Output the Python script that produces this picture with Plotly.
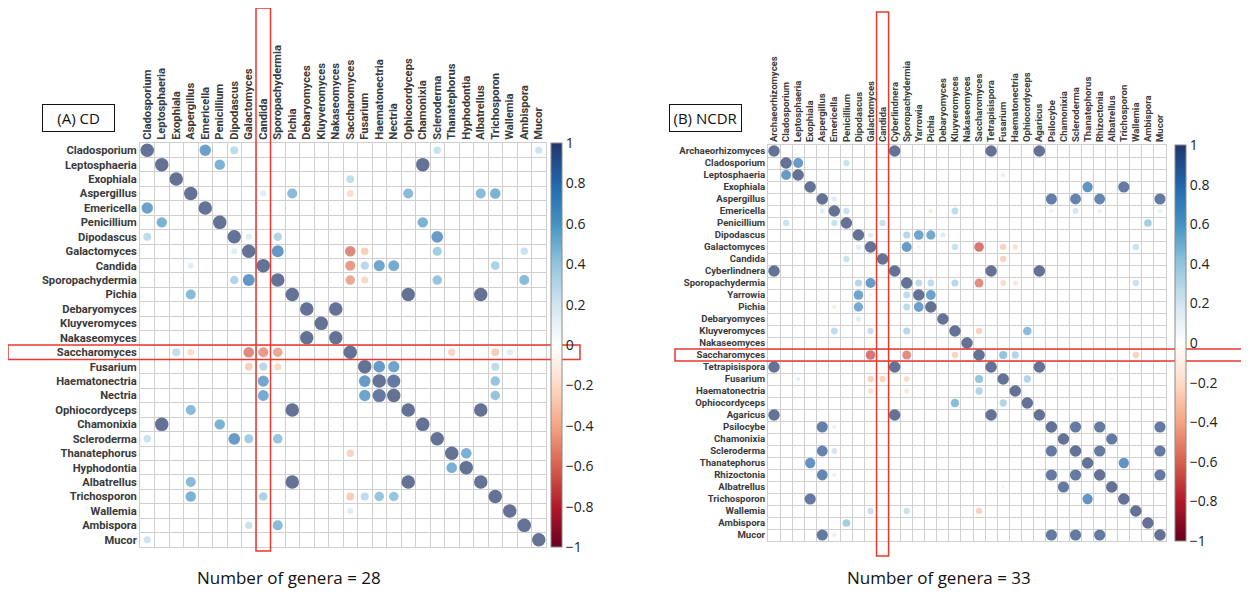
import numpy as np
import plotly.graph_objects as go

# ==========================================
# Data
# ==========================================

cd_genera = [
    "Cladosporium", "Leptosphaeria", "Exophiala", "Aspergillus", "Emericella",
    "Penicillium", "Dipodascus", "Galactomyces", "Candida", "Sporopachydermia",
    "Pichia", "Debaryomyces", "Kluyveromyces", "Nakaseomyces", "Saccharomyces",
    "Fusarium", "Haematonectria", "Nectria", "Ophiocordyceps", "Chamonixia",
    "Scleroderma", "Thanatephorus", "Hyphodontia", "Albatrellus", "Trichosporon",
    "Wallemia", "Ambispora", "Mucor",
]

# upper-triangle correlations (the matrix is symmetric, diagonal = 1)
cd_pairs = [
    ("Cladosporium", "Emericella", 0.72),
    ("Cladosporium", "Dipodascus", 0.35),
    ("Cladosporium", "Scleroderma", 0.3),
    ("Cladosporium", "Mucor", 0.28),
    ("Leptosphaeria", "Penicillium", 0.6),
    ("Leptosphaeria", "Chamonixia", 1.0),
    ("Exophiala", "Saccharomyces", 0.33),
    ("Aspergillus", "Candida", 0.2),
    ("Aspergillus", "Pichia", 0.55),
    ("Aspergillus", "Saccharomyces", -0.25),
    ("Aspergillus", "Ophiocordyceps", 0.55),
    ("Aspergillus", "Albatrellus", 0.55),
    ("Aspergillus", "Trichosporon", 0.6),
    ("Penicillium", "Chamonixia", 0.6),
    ("Dipodascus", "Galactomyces", 0.2),
    ("Dipodascus", "Sporopachydermia", 0.4),
    ("Dipodascus", "Scleroderma", 0.75),
    ("Galactomyces", "Sporopachydermia", 0.78),
    ("Galactomyces", "Saccharomyces", -0.62),
    ("Galactomyces", "Fusarium", -0.32),
    ("Galactomyces", "Scleroderma", 0.45),
    ("Galactomyces", "Ambispora", 0.3),
    ("Candida", "Saccharomyces", -0.55),
    ("Candida", "Fusarium", 0.38),
    ("Candida", "Haematonectria", 0.68),
    ("Candida", "Nectria", 0.65),
    ("Candida", "Trichosporon", 0.42),
    ("Sporopachydermia", "Saccharomyces", -0.5),
    ("Sporopachydermia", "Fusarium", -0.27),
    ("Sporopachydermia", "Scleroderma", 0.5),
    ("Sporopachydermia", "Ambispora", 0.55),
    ("Pichia", "Ophiocordyceps", 1.0),
    ("Pichia", "Albatrellus", 1.0),
    ("Debaryomyces", "Nakaseomyces", 1.0),
    ("Saccharomyces", "Thanatephorus", -0.3),
    ("Saccharomyces", "Trichosporon", -0.33),
    ("Saccharomyces", "Wallemia", 0.2),
    ("Fusarium", "Haematonectria", 0.75),
    ("Fusarium", "Nectria", 0.7),
    ("Fusarium", "Trichosporon", 0.35),
    ("Haematonectria", "Nectria", 0.95),
    ("Haematonectria", "Trichosporon", 0.5),
    ("Nectria", "Trichosporon", 0.5),
    ("Ophiocordyceps", "Albatrellus", 1.0),
    ("Thanatephorus", "Hyphodontia", 0.62),
]

ncdr_genera = [
    "Archaeorhizomyces", "Cladosporium", "Leptosphaeria", "Exophiala", "Aspergillus",
    "Emericella", "Penicillium", "Dipodascus", "Galactomyces", "Candida",
    "Cyberlindnera", "Sporopachydermia", "Yarrowia", "Pichia", "Debaryomyces",
    "Kluyveromyces", "Nakaseomyces", "Saccharomyces", "Tetrapisispora", "Fusarium",
    "Haematonectria", "Ophiocordyceps", "Agaricus", "Psilocybe", "Chamonixia",
    "Scleroderma", "Thanatephorus", "Rhizoctonia", "Albatrellus", "Trichosporon",
    "Wallemia", "Ambispora", "Mucor",
]

ncdr_pairs = [
    ("Archaeorhizomyces", "Cyberlindnera", 1.0),
    ("Archaeorhizomyces", "Tetrapisispora", 1.0),
    ("Archaeorhizomyces", "Agaricus", 1.0),
    ("Cladosporium", "Leptosphaeria", 0.75),
    ("Cladosporium", "Penicillium", 0.3),
    ("Leptosphaeria", "Fusarium", 0.15),
    ("Exophiala", "Thanatephorus", 0.8),
    ("Exophiala", "Trichosporon", 0.95),
    ("Aspergillus", "Emericella", 0.2),
    ("Aspergillus", "Psilocybe", 0.92),
    ("Aspergillus", "Scleroderma", 0.9),
    ("Aspergillus", "Rhizoctonia", 0.88),
    ("Aspergillus", "Mucor", 0.95),
    ("Emericella", "Penicillium", 0.3),
    ("Emericella", "Pichia", -0.15),
    ("Emericella", "Kluyveromyces", 0.35),
    ("Emericella", "Psilocybe", 0.13),
    ("Emericella", "Scleroderma", 0.25),
    ("Emericella", "Rhizoctonia", 0.13),
    ("Emericella", "Mucor", 0.15),
    ("Penicillium", "Candida", 0.3),
    ("Penicillium", "Ambispora", 0.45),
    ("Dipodascus", "Galactomyces", 0.2),
    ("Dipodascus", "Sporopachydermia", 0.38),
    ("Dipodascus", "Yarrowia", 0.7),
    ("Dipodascus", "Pichia", 0.65),
    ("Dipodascus", "Debaryomyces", 0.2),
    ("Galactomyces", "Sporopachydermia", 0.75),
    ("Galactomyces", "Yarrowia", 0.1),
    ("Galactomyces", "Kluyveromyces", 0.3),
    ("Galactomyces", "Saccharomyces", -0.7),
    ("Galactomyces", "Fusarium", -0.3),
    ("Galactomyces", "Haematonectria", -0.22),
    ("Galactomyces", "Wallemia", 0.3),
    ("Candida", "Fusarium", -0.3),
    ("Cyberlindnera", "Tetrapisispora", 1.0),
    ("Cyberlindnera", "Agaricus", 1.0),
    ("Sporopachydermia", "Yarrowia", 0.35),
    ("Sporopachydermia", "Pichia", 0.35),
    ("Sporopachydermia", "Kluyveromyces", 0.38),
    ("Sporopachydermia", "Saccharomyces", -0.6),
    ("Sporopachydermia", "Fusarium", -0.25),
    ("Sporopachydermia", "Haematonectria", -0.2),
    ("Sporopachydermia", "Wallemia", 0.3),
    ("Yarrowia", "Pichia", 0.72),
    ("Kluyveromyces", "Saccharomyces", -0.3),
    ("Kluyveromyces", "Ophiocordyceps", 0.55),
    ("Saccharomyces", "Fusarium", 0.5),
    ("Saccharomyces", "Haematonectria", 0.4),
    ("Saccharomyces", "Wallemia", -0.3),
    ("Tetrapisispora", "Agaricus", 1.0),
    ("Fusarium", "Ophiocordyceps", 0.4),
    ("Fusarium", "Albatrellus", 0.1),
    ("Psilocybe", "Scleroderma", 0.95),
    ("Psilocybe", "Rhizoctonia", 0.95),
    ("Psilocybe", "Mucor", 0.95),
    ("Chamonixia", "Albatrellus", 0.95),
    ("Scleroderma", "Rhizoctonia", 0.95),
    ("Scleroderma", "Mucor", 0.95),
    ("Thanatephorus", "Trichosporon", 0.8),
    ("Rhizoctonia", "Mucor", 0.95),
]

cbar_ticks = [1, 0.8, 0.6, 0.4, 0.2, 0, -0.2, -0.4, -0.6, -0.8, -1]

# ==========================================
# Data Preparation
# ==========================================

def build_matrix(genera, pairs):
    n = len(genera)
    idx = {g: i for i, g in enumerate(genera)}
    m = np.eye(n)
    for a, b, r in pairs:
        m[idx[a], idx[b]] = r
        m[idx[b], idx[a]] = r
    rows, cols = np.nonzero(m)
    return rows, cols, m[rows, cols]


rdbu = [
    [0.0, "#67001F"], [0.1, "#B2182B"], [0.2, "#D6604D"], [0.3, "#F4A582"],
    [0.4, "#FDDBC7"], [0.5, "#FFFFFF"], [0.6, "#D1E5F0"], [0.7, "#92C5DE"],
    [0.8, "#4393C3"], [0.9, "#2166AC"], [1.0, "#22366A"],
]

W, H = 1249, 596
OFF = 8  # the page body adds 8px around the figure


def px_x(v):
    return (v - OFF) / W


def px_y(v):
    return 1 - (v - OFF) / H


label_color = "#3a3a3a"

# panel grid boxes in page pixels: left, right, top, bottom
panels = [
    dict(genera=cd_genera, pairs=cd_pairs, box=(140, 546, 143, 547), dot=13.5, font=11.2,
         cbar_x=551, tag="(A) CD", tag_x=78, footer="Number of genera = 28", foot_x=289,
         vline=(8, 551), hline=(8, 580)),
    dict(genera=ncdr_genera, pairs=ncdr_pairs, box=(768, 1166, 145, 541), dot=11.5, font=9.6,
         cbar_x=1175, tag="(B) NCDR", tag_x=705, footer="Number of genera = 33", foot_x=939,
         vline=(12, 556), hline=(675, 1245)),
]

# ==========================================
# Plot
# ==========================================

fig = go.Figure()
layout = {}
shapes = []
annotations = []

for k, p in enumerate(panels, start=1):
    suffix = "" if k == 1 else str(k)
    n = len(p["genera"])
    rows, cols, vals = build_matrix(p["genera"], p["pairs"])
    l, r, t, b = p["box"]
    xdom = [px_x(l), px_x(r)]
    ydom = [px_y(b), px_y(t)]

    fig.add_trace(go.Scatter(
        x=cols, y=rows, mode="markers",
        xaxis="x" + suffix, yaxis="y" + suffix,
        marker=dict(
            size=p["dot"] * np.sqrt(np.abs(vals)),
            color=vals, coloraxis="coloraxis" + suffix,
            line=dict(width=0),
        ),
        hovertemplate="%{customdata}<extra></extra>",
        customdata=[f"{p['genera'][i]} – {p['genera'][j]}: {v:.2f}" for i, j, v in zip(rows, cols, vals)],
        showlegend=False,
    ))

    tick_font = dict(size=p["font"], color=label_color, family="Roboto", weight="bold")
    grid = dict(tickmode="array", tickvals=[v - 0.5 for v in range(n + 1)],
                showgrid=True, gridcolor="#cfcfcf", gridwidth=1, ticks="")
    layout["xaxis" + suffix] = dict(
        domain=xdom, range=[-0.5, n - 0.5], anchor="y" + suffix, side="top",
        tickmode="array", tickvals=list(range(n)), ticktext=p["genera"],
        tickangle=-90, tickfont=tick_font, automargin=False,
        showgrid=False, zeroline=False, ticks="", minor=grid,
        showline=True, mirror=True, linecolor="#cfcfcf", fixedrange=True,
    )
    layout["yaxis" + suffix] = dict(
        domain=ydom, range=[n - 0.5, -0.5], anchor="x" + suffix,
        tickmode="array", tickvals=list(range(n)), ticktext=p["genera"],
        tickfont=tick_font, automargin=False,
        showgrid=False, zeroline=False, ticks="", minor=grid,
        showline=True, mirror=True, linecolor="#cfcfcf", fixedrange=True,
    )
    layout["coloraxis" + suffix] = dict(
        cmin=-1, cmax=1, colorscale=rdbu,
        colorbar=dict(
            x=px_x(p["cbar_x"]), xanchor="left", y=(ydom[0] + ydom[1]) / 2, yanchor="middle",
            len=ydom[1] - ydom[0], lenmode="fraction", thickness=11,
            outlinewidth=1, outlinecolor="#8a8a8a", xpad=0, ypad=0,
            tickmode="array", tickvals=cbar_ticks,
            ticktext=[f"{v:g}".replace("-", "\u2212") for v in cbar_ticks],
            tickfont=dict(size=14, color="#222222", family="Open Sans"),
            ticks="",
        ),
    )

    # red highlight boxes around Candida column and Saccharomyces row
    ci = p["genera"].index("Candida")
    si = p["genera"].index("Saccharomyces")
    shapes.append(dict(type="rect", xref="x" + suffix, yref="paper",
                       x0=ci - 0.5, x1=ci + 0.5,
                       y0=px_y(p["vline"][1]), y1=px_y(p["vline"][0]),
                       line=dict(color="#E8392F", width=1.5), fillcolor="rgba(0,0,0,0)"))
    shapes.append(dict(type="rect", xref="paper", yref="y" + suffix,
                       x0=px_x(p["hline"][0]), x1=px_x(p["hline"][1]),
                       y0=si - 0.5, y1=si + 0.5,
                       line=dict(color="#E8392F", width=1.5), fillcolor="rgba(0,0,0,0)"))

    annotations.append(dict(
        text=p["tag"], x=px_x(p["tag_x"]), y=px_y(118), xref="paper", yref="paper",
        xanchor="center", yanchor="middle",
        showarrow=False, font=dict(size=15, color="#111111", family="Open Sans"),
        bordercolor="#111111", borderwidth=1, width=69, height=24, bgcolor="white",
    ))
    annotations.append(dict(
        text=p["footer"], x=px_x(p["foot_x"]), y=px_y(577), xref="paper", yref="paper",
        xanchor="center", yanchor="middle",
        showarrow=False, font=dict(size=17, color="#111111", family="Open Sans"),
    ))

fig.update_layout(
    width=W, height=H,
    margin=dict(l=0, r=0, t=0, b=0),
    paper_bgcolor="white", plot_bgcolor="white",
    shapes=shapes, annotations=annotations,
    **layout,
)

# ==========================================
# Save
# ==========================================

fig.write_html("out.html")
